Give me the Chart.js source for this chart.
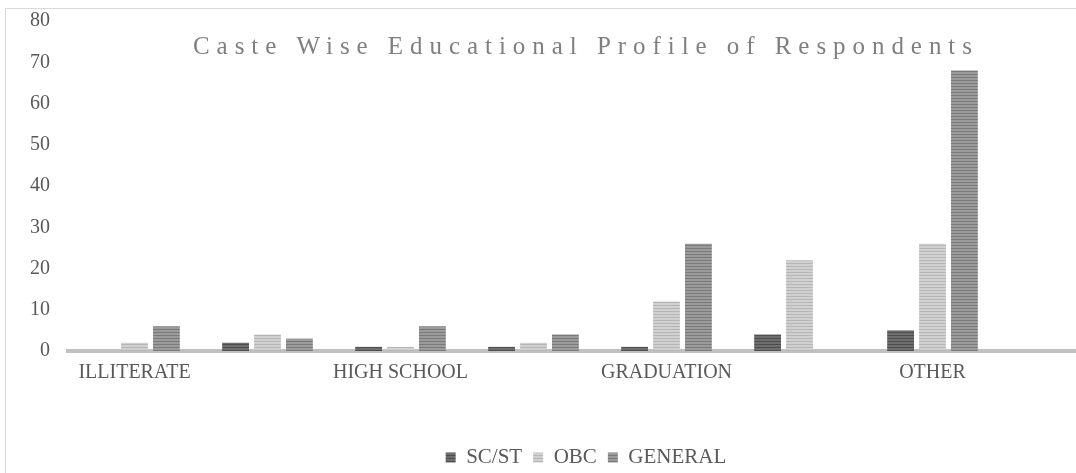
<!DOCTYPE html>
<html>
<head>
<meta charset="utf-8">
<title>Caste Wise Educational Profile of Respondents</title>
<script src="https://cdn.jsdelivr.net/npm/chart.js@4/dist/chart.umd.min.js"></script>
<style>
  html, body { margin: 0; padding: 0; background: #fff; width: 1076px; height: 473px; overflow: hidden; }
  #frame {
    position: absolute; left: 5px; top: 8px;
    width: 1156px; height: 470px;
    border: 1px solid #d9d9d9; background: #fff;
  }
</style>
</head>
<body>
<div id="frame"><canvas id="chart"></canvas></div>
<script>
"use strict";

// categories (only every other one gets a visible label, as in the source)
const categories = [
  "ILLITERATE", "PRIMARY", "HIGH SCHOOL", "INTERMEDIATE",
  "GRADUATION", "POST GRADUATION", "OTHER", "TOTAL"
];
const seriesNames = ["SC/ST", "OBC", "GENERAL"];
const scst    = [0, 2, 1, 1, 1, 4, 5, 0];
const obc     = [2, 4, 1, 2, 12, 22, 26, 0];
const general = [6, 3, 6, 4, 26, 0, 68, 0];
const yTicks  = [0, 10, 20, 30, 40, 50, 60, 70, 80];
const chartTitle = "Caste Wise Educational Profile of Respondents";

const FONT = '"Liberation Serif", "Times New Roman", serif';
const TEXT = "#595959";

// horizontal stripe fill like the Excel pattern
function stripes(base, line) {
  const c = document.createElement("canvas");
  c.width = 4; c.height = 3;
  const g = c.getContext("2d");
  g.fillStyle = base; g.fillRect(0, 0, 4, 3);
  g.fillStyle = line; g.fillRect(0, 2, 4, 1);
  return g.createPattern(c, "repeat");
}

const fills = [
  stripes("#6e6e6e", "#4e4e4e"),
  stripes("#d0d0d0", "#b6b6b6"),
  stripes("#9b9b9b", "#7a7a7a"),
];

// title sits over the plot area, so draw it by hand
const overlayTitle = {
  id: "overlayTitle",
  afterLayout(chart) {
    // legend is centred on the whole frame, not on the plot
    chart.legend.left += 17;
    chart.legend.right += 17;
  },
  afterDraw(chart) {
    const ctx = chart.ctx;
    ctx.save();
    ctx.font = "25px " + FONT;
    ctx.fillStyle = "#7f7f7f";
    ctx.textBaseline = "alphabetic";
    ctx.textAlign = "left";
    const w0 = ctx.measureText(chartTitle).width;
    const spacing = (779 - w0) / (chartTitle.length - 1);
    ctx.letterSpacing = spacing.toFixed(2) + "px";
    ctx.fillText(chartTitle, 187, 45);
    ctx.restore();
  },
};

new Chart(document.getElementById("chart"), {
  type: "bar",
  data: {
    labels: categories,
    datasets: [scst, obc, general].map((d, i) => ({
      label: seriesNames[i],
      data: d,
      backgroundColor: fills[i],
      borderWidth: 0,
      categoryPercentage: 0.72,
      barPercentage: 0.84,
    })),
  },
  options: {
    responsive: true,
    maintainAspectRatio: false,
    animation: false,
    layout: { padding: { left: 0, right: 30, top: 0, bottom: 1 } },
    plugins: {
      legend: {
        position: "bottom",
        labels: {
          font: { family: FONT, size: 21 },
          color: TEXT,
          boxWidth: 10,
          boxHeight: 10,
          padding: 11,
        },
      },
      title: { display: false },
      tooltip: { enabled: false },
    },
    scales: {
      x: {
        z: 1,
        grid: { display: false, drawTicks: false },
        border: { display: true, color: "#c0c0c0", width: 4 },
        ticks: {
          font: { family: FONT, size: 20 },
          color: TEXT,
          padding: 10,
          maxRotation: 0,
          autoSkip: false,
          callback: (v, i) => (i % 2 === 0 ? categories[i] : ""),
        },
        afterFit: (s) => { s.height = 85; },
      },
      y: {
        min: yTicks[0],
        max: yTicks[yTicks.length - 1],
        grid: { display: false, drawTicks: true, tickLength: 18 },
        border: { display: false },
        afterBuildTicks: (s) => { s.ticks = yTicks.map((v) => ({ value: v })); },
        ticks: {
          font: { family: FONT, size: 20 },
          color: TEXT,
          padding: 0,
        },
        afterFit: (s) => { s.width = 62; },
      },
    },
  },
  plugins: [overlayTitle],
});
</script>
</body>
</html>
